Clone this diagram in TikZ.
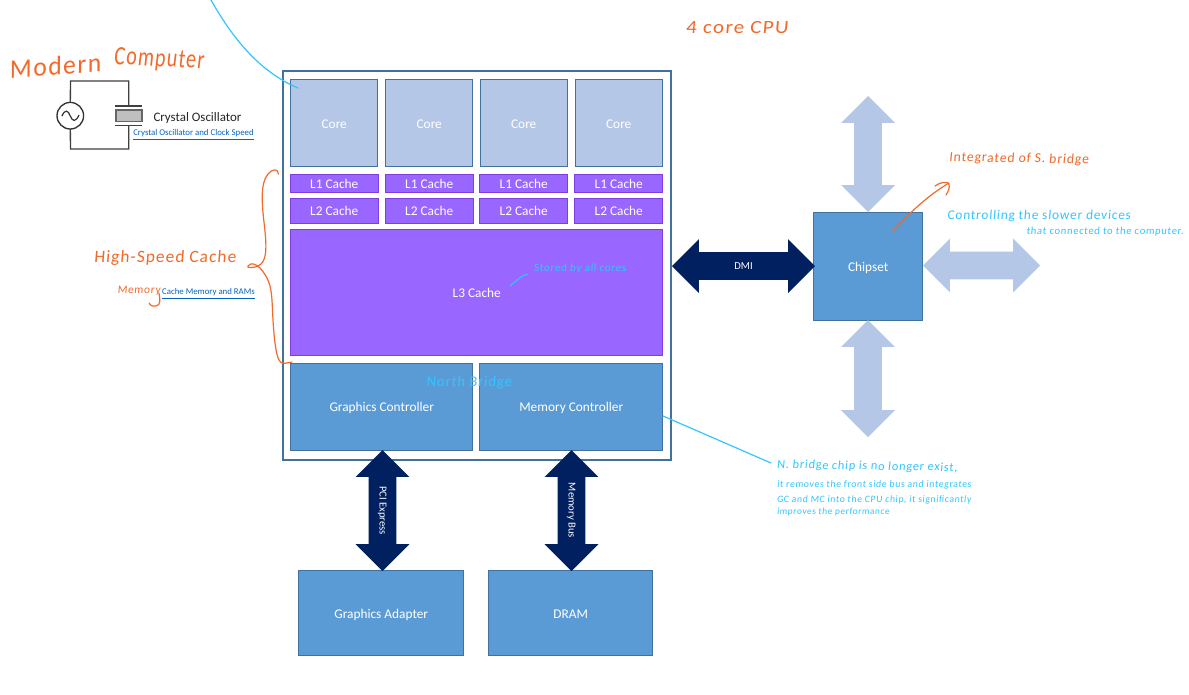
\documentclass[tikz,border=0pt]{standalone}
\usepackage{fontspec}
\setmainfont{Carlito}
\newfontfamily\handfont[LetterSpace=6,FakeSlant=0.08]{Carlito}
\usetikzlibrary{shapes.arrows}
\newdimen\pxu \pxu=0.75pt
\definecolor{frameblue}{HTML}{41719C}
\definecolor{coreblue}{HTML}{B4C7E7}
\definecolor{midblue}{HTML}{5B9BD5}
\definecolor{cachepurple}{HTML}{9966FF}
\definecolor{cacheedge}{HTML}{7F3FE0}
\definecolor{navy}{HTML}{002060}
\definecolor{lightarrow}{HTML}{B4C7E7}
\definecolor{inkorange}{HTML}{F2692A}
\definecolor{inkcyan}{HTML}{33C5FF}
\definecolor{linkblue}{HTML}{0563C1}
\definecolor{labelgrey}{HTML}{262626}
\newcommand{\fsz}[1]{\fontsize{#1}{#1}\selectfont}
\newcommand{\shaftstrut}{\vrule height 16.5\pxu depth 10.5\pxu width 0pt}
\tikzset{
  x=0.75pt,y=-0.75pt,
  base/.style={inner sep=0pt,outer sep=0pt,font=\fsz{10}},
  boxtext/.style={text height=7.5pt,text depth=0pt},
  corebox/.style={base,boxtext,draw=frameblue,line width=0.75pt,fill=coreblue,text=white,minimum width=87\pxu,minimum height=87\pxu},
  cachebox/.style={base,boxtext,draw=cacheedge,line width=0.6pt,fill=cachepurple,text=white,minimum width=88\pxu},
  bluebox/.style={base,boxtext,draw=frameblue,line width=0.75pt,fill=midblue,text=white},
  darrow/.style={base,double arrow,double arrow head extend=13\pxu,minimum width=53\pxu,font=\fsz{8},text=white},
  navyarrow/.style={darrow,fill=navy},
  paleterrow/.style={darrow,fill=lightarrow},
  inko/.style={draw=inkorange,line width=0.9pt,line cap=round,line join=round},
  inkc/.style={draw=inkcyan,line width=0.9pt,line cap=round,line join=round},
  orangetxt/.style={base,text=inkorange,font=\handfont\fsz{#1}},
  cyantxt/.style={base,text=inkcyan,font=\handfont\fsz{#1}},
  linktxt/.style={base,text=linkblue,font=\fsz{6.6}},
  wire/.style={draw=black!75,line width=1pt}
}
\begin{document}
\begin{tikzpicture}
\useasboundingbox (0,0) rectangle (1189,694);
\fill[white] (0,0) rectangle (1189,694);

% CPU frame
\node[base,draw=frameblue,line width=1pt,fill=white,minimum width=388\pxu,minimum height=389\pxu] (cpu) at (477,265.5) {};

% cores and caches
\node[corebox] (c1) at (334.25,123.25) {Core};
\node[corebox] (c2) at (429.25,123.25) {Core};
\node[corebox] (c3) at (523.75,123.25) {Core};
\node[corebox] (c4) at (618.75,123.25) {Core};
\node[cachebox,minimum height=18\pxu] (a1) at (334.25,183) {L1 Cache};
\node[cachebox,minimum height=18\pxu] (a2) at (429.25,183) {L1 Cache};
\node[cachebox,minimum height=18\pxu] (a3) at (523.75,183) {L1 Cache};
\node[cachebox,minimum height=18\pxu] (a4) at (618.75,183) {L1 Cache};
\node[cachebox,minimum height=25\pxu] (b1) at (334.25,210.5) {L2 Cache};
\node[cachebox,minimum height=25\pxu] (b2) at (429.25,210.5) {L2 Cache};
\node[cachebox,minimum height=25\pxu] (b3) at (523.75,210.5) {L2 Cache};
\node[cachebox,minimum height=25\pxu] (b4) at (618.75,210.5) {L2 Cache};
\node[cachebox,minimum width=372\pxu,minimum height=126\pxu] (l3) at (476.75,292) {L3 Cache};
\node[bluebox,minimum width=182\pxu,minimum height=87\pxu] (gc) at (381.75,406.5) {Graphics Controller};
\node[bluebox,minimum width=183\pxu,minimum height=87\pxu] (mc) at (571.25,406.5) {Memory Controller};

% outside boxes
\node[bluebox,minimum width=165\pxu,minimum height=85\pxu] (ga) at (381.25,613.25) {Graphics Adapter};
\node[bluebox,minimum width=164\pxu,minimum height=85\pxu] (dram) at (570.75,613.25) {DRAM};
\node[bluebox,minimum width=109\pxu,minimum height=108\pxu] (chip) at (868.25,266) {Chipset};

% block arrows
\node[navyarrow,minimum height=143\pxu] (dmi) at (743.5,266) {\shaftstrut DMI};
\node[navyarrow,rotate=-90,minimum height=121\pxu] (pci) at (382.5,510.5) {\shaftstrut PCI Express};
\node[navyarrow,rotate=-90,minimum height=121\pxu] (mbus) at (571.5,510.5) {\shaftstrut Memory Bus};
\node[paleterrow,rotate=90,minimum height=116\pxu] (up) at (868,154) {\shaftstrut};
\node[paleterrow,rotate=90,minimum height=117\pxu] (down) at (868,378.5) {\shaftstrut};
\node[paleterrow,minimum height=117\pxu] (right) at (981.5,265.5) {\shaftstrut};

% oscillator
\coordinate (wtl) at (70.5,81);
\coordinate (wtr) at (128.7,81);
\coordinate (wbl) at (70.5,149);
\coordinate (wbr) at (128.7,149);
\node[base,circle,draw=black!80,line width=1pt,fill=white,minimum size=26.6\pxu] (src) at (70.3,115.7) {};
\node[base,draw=black!60,line width=1pt,fill=black!25,minimum width=26\pxu,minimum height=11.7\pxu] (xtal) at (129,115.8) {};
\coordinate (pt1) at (115.3,106);
\coordinate (pt2) at (142.3,106);
\coordinate (pb1) at (115.3,125.3);
\coordinate (pb2) at (142.3,125.3);
\coordinate (ptm) at (128.7,106);
\coordinate (pbm) at (128.7,125.3);
\draw[wire] (src.north) -- (wtl) -- (wtr) -- (ptm);
\draw[wire] (src.south) -- (wbl) -- (wbr) -- (pbm);
\draw[wire] (pt1) -- (pt2);
\draw[wire] (pb1) -- (pb2);
\draw[black!80,line width=0.9pt] (62,116) .. controls (65,109) and (68,110) .. (70.3,116) .. controls (72.5,122) and (76,122) .. (79,115);
\node[base,text=labelgrey,font=\fsz{9.7}] (xlabel) at (197.5,118) {Crystal Oscillator};
\node[linktxt] (xlink) at (193.5,134.5) {\underline{Crystal Oscillator and Clock Speed}};
\node[linktxt] (clink) at (208.5,293.5) {\underline{Cache Memory and RAMs}};

% handwritten labels
\node[orangetxt=20,rotate=4,xscale=0.96] (modern) at (55,66) {Modern};
\node[orangetxt=20,rotate=-3,xscale=0.75] (computer) at (159,60) {Computer};
\node[orangetxt=14,xscale=1.13] (fourcore) at (737,28) {4 core CPU};
\node[orangetxt=13] (hsc) at (165,258) {High-Speed Cache};
\node[orangetxt=8.5] (memory) at (139,291) {Memory};
\node[orangetxt=10.3,rotate=-1] (integ) at (1019,159) {Integrated of S. bridge};
\node[cyantxt=10] (ctrl) at (1039,216) {Controlling the slower devices};
\node[cyantxt=8] (ctrl2) at (1105,232) {that connected to the computer.};
\node[cyantxt=8.3] (stored) at (580,269) {Stored by all cores};
\node[cyantxt=11] (north) at (469,383) {North Bridge};
\node[cyantxt=9.3,anchor=west,rotate=-1] (n1) at (777,465) {N. bridge chip is no longer exist,};
\node[cyantxt=7.35,anchor=west] (n2) at (777,485) {it removes the front side bus and integrates};
\node[cyantxt=7.3,anchor=west] (n3) at (777,500) {GC and MC into the CPU chip, it significantly};
\node[cyantxt=7,anchor=west] (n4) at (777,512) {improves the performance};

% ink strokes
\coordinate (pen1) at (211,0);
\coordinate (pen2) at (298,88);
\draw[inkc] (pen1) .. controls (228,30) and (255,70) .. (pen2);
\coordinate (mcpt) at (663,416);
\coordinate (npt) at (771,463);
\draw[inkc] (mcpt) -- (npt);
\coordinate (l3a) at (510,286);
\coordinate (l3b) at (528,274);
\draw[inkc] (l3a) .. controls (516,281) and (522,275) .. (l3b);
\coordinate (arr1) at (892,232);
\coordinate (arr2) at (949,183);
\draw[inko] (arr1) .. controls (905,218) and (925,197) .. (arr2);
\draw[inko] (935,186) .. controls (940,182) and (948,181) .. (949,184) .. controls (950,188) and (948,192) .. (946,195);
\coordinate (br2) at (292,362);
\draw[inko] (278.5,174) .. controls (278,168) and (272,169) .. (268,174)
  .. controls (260,183) and (262,205) .. (264,222)
  .. controls (266,240) and (268,258) .. (261,264)
  .. controls (255,269) and (245,268) .. (248,266)
  .. controls (251,262) and (256,264) .. (260,268)
  .. controls (268,277) and (271,285) .. (272,300)
  .. controls (273,320) and (274,350) .. (279,360)
  .. controls (281,365) and (287,363) .. (br2);
\draw[inko] (159,293) .. controls (160,300) and (161,305) .. (156,306) .. controls (153,307) and (151,306) .. (149,303);
\end{tikzpicture}
\end{document}
